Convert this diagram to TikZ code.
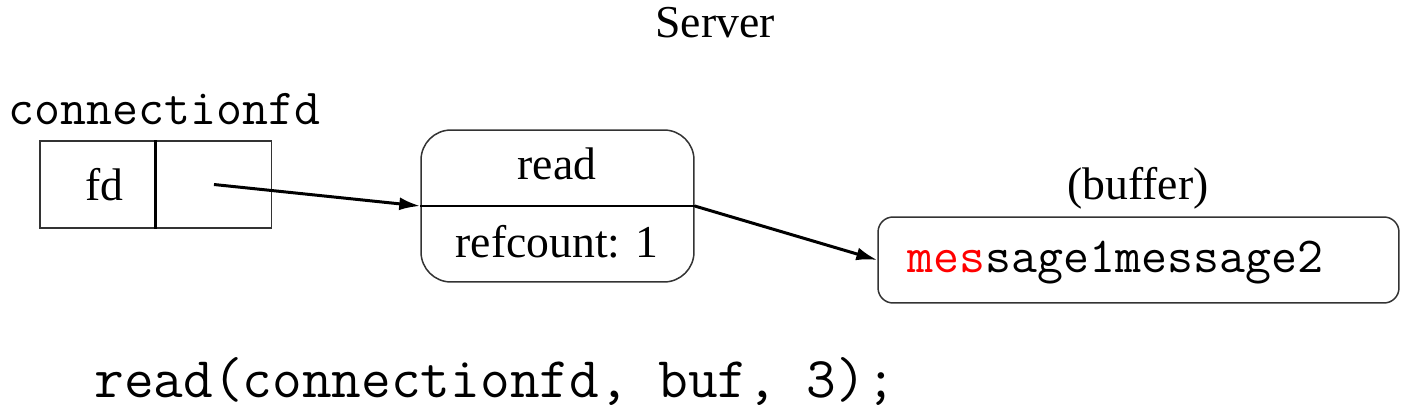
\documentclass[tikz,border=0pt]{standalone}
\usepackage{fontspec}
\setmainfont{Liberation Serif}
\usetikzlibrary{arrows.meta,positioning}

\begin{document}
\begin{tikzpicture} [x=0.02cm,y=-0.02cm,->,>={Latex[length=0.42cm,width=0.26cm]},line width=0.6mm,
  every node/.style={font=\fontsize{26}{30}\selectfont},
  cell/.style={draw=black!80,line width=0.3mm,minimum width=2.3cm,minimum height=1.74cm,inner sep=0pt},
  entry/.style={draw=black!80,line width=0.3mm,rounded corners=0.6cm,minimum width=5.46cm,minimum height=3.04cm},
  buf/.style={draw=black!80,line width=0.3mm,rounded corners=0.3cm,minimum width=10.42cm,minimum height=1.72cm},
  code/.style={font=\ttfamily\fontsize{28.7}{32}\selectfont,inner sep=0pt}]

  \useasboundingbox (0,0) rectangle (1426,409);

  \node (server) at (715,23) {Server};

  % file descriptor table
  \node[code,anchor=base west] (cfd) at (7,124) {connectionfd};
  \node[cell] (fd) at (97.5,184.5) {\hspace{0.28cm}fd};
  \node[cell] (ptr) [right=0cm of fd] {};
  \draw[-,line width=0.5mm] (ptr.north west) -- (ptr.south west);

  % open file entry
  \node[entry] (read) at (557.5,206) {};
  \draw[-,line width=0.4mm] (read.west) -- (read.east);
  \node (rname) at (557,164) {read};
  \node (rcount) at (557,242) {refcount: 1};

  % buffer
  \node (bname) at (1138,188) {(buffer)};
  \node[buf] (buffer) at (1138.5,260) {};
  \node[code,anchor=base west] (msg) at (906,272) {\textcolor{red}{mes}sage1message2};

  \node[code,font=\ttfamily\fontsize{32.8}{36}\selectfont,anchor=base west] (call) at (93,397) {read(connectionfd, buf, 3);};

  \path
    (ptr.center) edge (read.west)
    (read.east) edge (buffer.west);

\end{tikzpicture}
\end{document}
